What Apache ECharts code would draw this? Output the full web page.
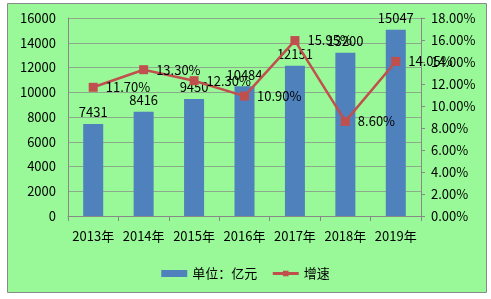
<!DOCTYPE html>
<html><head><meta charset="utf-8">
<script src="https://cdn.jsdelivr.net/npm/echarts@6/dist/echarts.min.js"></script>
<style>html,body{margin:0;padding:0;background:#fff;}#c{width:491px;height:299px;}</style>
</head><body><div id="c"></div>
<script>
const categories = ['2013年','2014年','2015年','2016年','2017年','2018年','2019年'];
const amounts = [7431, 8416, 9450, 10484, 12151, 13200, 15047];
const growth = [11.70, 13.30, 12.30, 10.90, 15.95, 8.60, 14.05];
const leftTicks = {min: 0, max: 16000, interval: 2000};
const rightTicks = {min: 0, max: 18, interval: 2};
const seriesNames = ['单位：亿元', '增速'];

const font = '"Noto Sans CJK SC", "Noto Sans", sans-serif';
const chart = echarts.init(document.getElementById('c'), null, {renderer: 'canvas'});
chart.setOption({
  backgroundColor: '#fff',
  animation: false,
  textStyle: {fontFamily: font},
  graphic: [{type: 'rect', z: -10, shape: {x: 7.5, y: 3.5, width: 479, height: 289},
    style: {fill: '#99F999', stroke: '#8a8a8a', lineWidth: 1}}],
  grid: {left: 68, right: 70, top: 18, bottom: 83},
  legend: {
    bottom: 14, left: 'center', itemGap: 14, itemWidth: 26, itemHeight: 7,
    textStyle: {fontSize: 13, color: '#000', fontFamily: font},
    data: [{name: seriesNames[0], icon: 'rect'},
           {name: seriesNames[1], itemStyle: {color: '#C0504D'}, lineStyle: {width: 3}}]
  },
  xAxis: {
    type: 'category', data: categories,
    axisLine: {lineStyle: {color: '#888'}},
    axisTick: {show: true, length: 5, lineStyle: {color: '#888'}},
    axisLabel: {color: '#000', fontSize: 13, margin: 14, interval: 0, fontFamily: font}
  },
  yAxis: [{
    type: 'value', min: leftTicks.min, max: leftTicks.max, interval: leftTicks.interval,
    axisLine: {show: true, lineStyle: {color: '#888'}},
    axisTick: {show: false},
    axisLabel: {color: '#000', fontSize: 13, margin: 12, fontFamily: font,
      formatter: v => String(v)},
    splitLine: {lineStyle: {color: '#8DAA8D'}}
  }, {
    type: 'value', min: rightTicks.min, max: rightTicks.max, interval: rightTicks.interval,
    position: 'right',
    axisLine: {show: true, lineStyle: {color: '#888'}},
    axisTick: {show: true, length: 4, lineStyle: {color: '#888'}},
    axisLabel: {color: '#000', fontSize: 13, margin: 10, fontFamily: font,
      formatter: v => v.toFixed(2) + '%'},
    splitLine: {show: false}
  }],
  series: [{
    name: seriesNames[0], type: 'bar', data: amounts, barWidth: 20,
    itemStyle: {color: '#4F81BD'},
    label: {show: true, position: 'top', color: '#000', fontSize: 13, distance: 5, fontFamily: font}
  }, {
    name: seriesNames[1], type: 'line', yAxisIndex: 1, data: growth,
    symbol: 'rect', symbolSize: 9,
    lineStyle: {color: '#C0504D', width: 2.5},
    itemStyle: {color: '#C0504D'},
    label: {show: true, position: 'right', distance: 8, color: '#000', fontSize: 13, fontFamily: font,
      formatter: p => p.value.toFixed(2) + '%'}
  }]
});
</script></body></html>
